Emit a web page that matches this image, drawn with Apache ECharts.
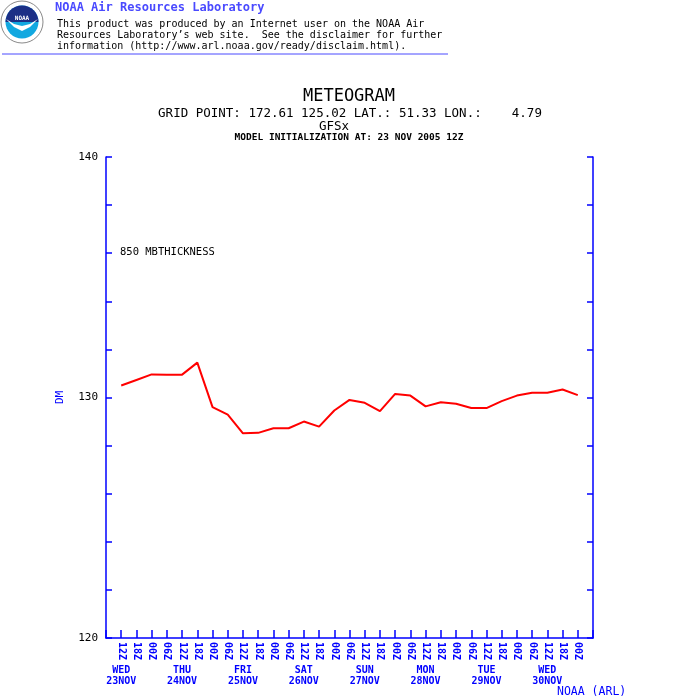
<!DOCTYPE html>
<html>
<head>
<meta charset="utf-8">
<title>METEOGRAM</title>
<script src="https://cdn.jsdelivr.net/npm/echarts@6/dist/echarts.min.js"></script>
<style>
  html, body { margin: 0; padding: 0; background: #fff; }
  #chart { width: 700px; height: 700px; }
</style>
</head>
<body>
<div id="chart"></div>
<script>
// 6-hourly steps from 23 NOV 2005 12Z to 01 DEC 00Z
var hourLabels = ['12Z','18Z','00Z','06Z','12Z','18Z','00Z','06Z','12Z','18Z','00Z','06Z',
    '12Z','18Z','00Z','06Z','12Z','18Z','00Z','06Z','12Z','18Z','00Z','06Z',
    '12Z','18Z','00Z','06Z','12Z','18Z','00Z'];
// day labels sit under every 12Z step
var dayLabels = ['WED\n23NOV','THU\n24NOV','FRI\n25NOV','SAT\n26NOV',
    'SUN\n27NOV','MON\n28NOV','TUE\n29NOV','WED\n30NOV'];
// 850 mb thickness, DM
var thickness = [130.5, 130.73, 130.96, 130.95, 130.95, 131.45, 129.6, 129.29, 128.51, 128.53,
    128.72, 128.72, 129.0, 128.79, 129.46, 129.9, 129.78, 129.43, 130.15, 130.08,
    129.63, 129.8, 129.74, 129.56, 129.56, 129.85, 130.08, 130.2, 130.2, 130.33, 130.1];
var yTicks = [120, 130, 140];

var axisBlue = '#0000ff';
var mono = 'DejaVu Sans Mono';

var seriesData = thickness.map(function (v, i) { return [i, v]; });

var option = {
    backgroundColor: '#fff',
    animation: false,
    grid: { left: 106, right: 107, top: 157, bottom: 62 },
    xAxis: [
        {
            type: 'value',
            min: -1,
            max: 31,
            interval: 1,
            axisLine: { show: true, onZero: false, lineStyle: { color: axisBlue, width: 1.5 } },
            axisTick: { show: true, inside: true, length: 8, lineStyle: { color: axisBlue, width: 1.5 } },
            splitLine: { show: false },
            axisLabel: {
                rotate: -90,
                margin: 4,
                color: axisBlue,
                fontFamily: mono,
                fontSize: 10,
                fontWeight: 'bold',
                showMinLabel: true,
                showMaxLabel: true,
                formatter: function (v) { return hourLabels[v] || ''; }
            }
        },
        {
            type: 'value',
            position: 'bottom',
            offset: 19,
            min: -1,
            max: 31,
            interval: 1,
            axisLine: { show: false },
            axisTick: { show: false },
            splitLine: { show: false },
            axisLabel: {
                color: axisBlue,
                fontFamily: mono,
                fontSize: 10,
                fontWeight: 'bold',
                lineHeight: 11,
                align: 'center',
                formatter: function (v) {
                    if (v >= 0 && v % 4 === 0) { return dayLabels[v / 4] || ''; }
                    return '';
                }
            }
        }
    ],
    yAxis: [
        {
            type: 'value',
            min: 120,
            max: 140,
            interval: 2,
            name: 'DM',
            nameLocation: 'middle',
            nameRotate: 90,
            nameGap: 40,
            nameTextStyle: { color: axisBlue, fontFamily: mono, fontSize: 11 },
            axisLine: { show: true, onZero: false, lineStyle: { color: axisBlue, width: 1.5 } },
            axisTick: { show: true, inside: true, length: 6, lineStyle: { color: axisBlue, width: 1.5 } },
            splitLine: { show: false },
            axisLabel: {
                color: '#000',
                fontFamily: mono,
                fontSize: 11,
                margin: 8,
                formatter: function (v) { return yTicks.indexOf(v) >= 0 ? String(v) : ''; }
            }
        },
        {
            type: 'value',
            position: 'right',
            min: 120,
            max: 140,
            interval: 2,
            axisLine: { show: true, onZero: false, lineStyle: { color: axisBlue, width: 1.5 } },
            axisTick: { show: true, inside: true, length: 6, lineStyle: { color: axisBlue, width: 1.5 } },
            splitLine: { show: false },
            axisLabel: { show: false }
        }
    ],
    series: [
        {
            name: '850 MBTHICKNESS',
            type: 'line',
            data: seriesData,
            showSymbol: false,
            symbol: 'none',
            lineStyle: { color: '#ff0000', width: 2 },
            itemStyle: { color: '#ff0000' }
        }
    ],
    graphic: [
        // NOAA logo
        { type: 'circle', shape: { cx: 22, cy: 22, r: 21 }, style: { fill: '#fff', stroke: '#8a8a8a', lineWidth: 1 } },
        { type: 'circle', shape: { cx: 22, cy: 22, r: 16.5 }, style: { fill: '#12a8e0' } },
        { type: 'sector', shape: { cx: 22, cy: 22, r: 16.5, r0: 0, startAngle: Math.PI, endAngle: Math.PI * 2 }, style: { fill: '#1b2f86' } },
        { type: 'polygon', shape: { points: [[6, 19], [14, 27], [22, 31], [30, 27], [38, 19], [30, 24], [22, 26], [14, 24]] }, style: { fill: '#fff' } },
        { type: 'text', style: { text: 'NOAA', x: 22, y: 15, textAlign: 'center', font: 'bold 6px ' + mono, fill: '#fff' } },

        // header
        { type: 'text', style: { text: 'NOAA Air Resources Laboratory', x: 55, y: 2, font: 'bold 12px ' + mono, fill: '#4a4aff' } },
        { type: 'text', style: { text: 'This product was produced by an Internet user on the NOAA Air', x: 57, y: 19, font: '10px ' + mono, fill: '#000' } },
        { type: 'text', style: { text: 'Resources Laboratory\u2019s web site.  See the disclaimer for further', x: 57, y: 30, font: '10px ' + mono, fill: '#000' } },
        { type: 'text', style: { text: 'information (http://www.arl.noaa.gov/ready/disclaim.html).', x: 57, y: 41, font: '10px ' + mono, fill: '#000' } },
        { type: 'line', shape: { x1: 2, y1: 54, x2: 448, y2: 54 }, style: { stroke: '#4a4aff', lineWidth: 1 } },

        // titles
        { type: 'text', style: { text: 'METEOGRAM', x: 349, y: 88, textAlign: 'center', font: '17px ' + mono, fill: '#000' } },
        { type: 'text', style: { text: 'GRID POINT: 172.61 125.02 LAT.: 51.33 LON.:    4.79', x: 350, y: 107, textAlign: 'center', font: '12.5px ' + mono, fill: '#000' } },
        { type: 'text', style: { text: 'GFSx', x: 334, y: 120, textAlign: 'center', font: '12.5px ' + mono, fill: '#000' } },
        { type: 'text', style: { text: 'MODEL INITIALIZATION AT: 23 NOV 2005 12Z', x: 349, y: 133, textAlign: 'center', font: 'bold 9.5px ' + mono, fill: '#000' } },

        // plot annotations
        { type: 'text', style: { text: '850 MBTHICKNESS', x: 120, y: 247, font: '10.5px ' + mono, fill: '#000' } },
        { type: 'text', style: { text: 'NOAA (ARL)', x: 557, y: 686, font: '11.5px ' + mono, fill: axisBlue } }
    ]
};

var myChart = echarts.init(document.getElementById('chart'));
myChart.setOption(option);
</script>
</body>
</html>
